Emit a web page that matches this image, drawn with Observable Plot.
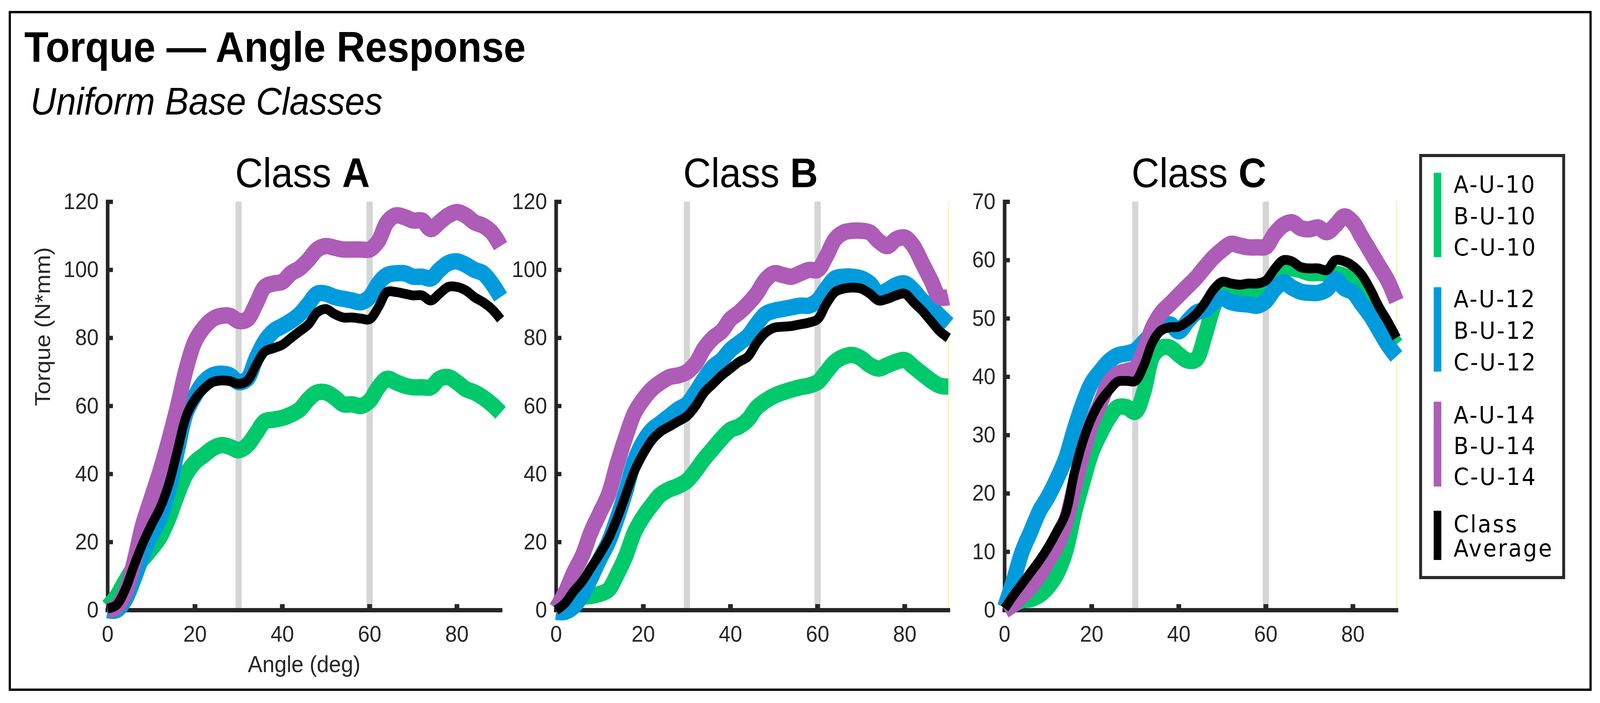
<!DOCTYPE html>
<html>
<head>
<meta charset="utf-8">
<script src="https://cdn.jsdelivr.net/npm/d3@7"></script>
<script src="https://cdn.jsdelivr.net/npm/@observablehq/plot@0.6"></script>
<style>
  html, body { margin: 0; padding: 0; background: #fff; overflow: hidden; }
  #page { position: absolute; left: 0; top: 0; width: 4406px; height: 1799px; transform-origin: 0 0; font-family: "Liberation Sans", Arial, sans-serif; background: #fff; overflow: hidden; }
  .abs { position: absolute; white-space: nowrap; line-height: 1; }
  #frame { position: absolute; left: 24px; top: 28px; width: 4359px; height: 1740px; border: 6px solid #000; box-sizing: border-box; }
  #title { left: 67px; top: 66px; font-size: 109px; font-weight: bold; color: #000; }
  #subtitle { left: 84px; top: 210px; font-size: 98px; font-style: italic; color: #000; }
  .classTitle { top: 389px; width: 800px; text-align: center; font-size: 106px; color: #000; }
  .panel { position: absolute; top: 440px; }
  .panel svg { max-width: none !important; overflow: visible; }
  #legendBox { position: absolute; left: 3908px; top: 394px; width: 402px; height: 1088px; border: 8px solid #2a2a2a; box-sizing: border-box; background: #fff; }
  .legBar { position: absolute; left: 3948px; width: 21px; }
  .legText { font-family: "DejaVu Sans", Verdana, sans-serif; font-size: 60px; letter-spacing: 4px; color: #000; left: 4003px; }
</style>
</head>
<body>
<div id="page">
<div id="frame"></div>
<div class="abs" id="title">Torque — Angle Response</div>
<div class="abs" id="subtitle">Uniform Base Classes</div>
<div id="legendBox"></div>
</div>
<script>
// ---------------- data ----------------
const angleDeg = [0,2,4,6,8,10,12,14,16,18,20,22,24,26,28,30,32,34,36,38,40,42,44,46,48,50,52,54,56,58,60,62,64,66,68,70,72,74,76,78,80,82,84,86,88,90];

const classA_U10 = [1,4,8.5,12.5,15,18,21.5,27,34,40,43.5,45.5,47.5,48.5,48,47,48.5,52,55.5,56,56.5,57.5,59,62,64,64,62.5,60.5,60.5,60,61.5,65.5,68,67,66,65.5,65.5,65.5,68,68.5,67,65,64,62.5,60.5,58];
const classA_U12 = [0,0,3,9,16,22,27,35,47,58,63,67,69,69.5,69,67,68,74,79,82,83.5,85,87,90,93,93,92,91.5,91,90.5,92,96,98.5,99,99,98,98,97.5,100,102,102.5,101.5,100,99,96,92];
const classA_U14 = [0,1,5,14,25,33,41,50,60,71,79,83,85.5,86.5,86.5,85,85.5,90,95,96,96.5,99,100.5,103,106,107,106.5,106,106,106,106,108.5,114,116,115.5,114.5,114.5,112,114,116,117,116,114,113,111,107];
const classA_avg = [0.5,1.5,6,13,19.5,25,30,37,47,57,62,65,67,67.5,67.3,66.5,67.5,72,76,77,78,80,82,84,87.5,88.5,87,86,86,85.7,85.5,89,93.5,93.5,93,92.5,92.5,91,93,95,95,94,92,90.5,88.5,85.5];

const classB_U10 = [2,3,4,4,4.2,4.8,6,10.5,16,23,27.5,31,34,35.5,36.5,38,41,44.5,47.5,50.5,53,54,56,59.5,61.5,63,64,64.8,65.5,66,67,70,73,74.5,75,74,72,71,72,73,73.5,71.5,69.5,67.5,66,65.7];
const classB_U12 = [-0.5,-0.5,1,4.5,9.5,15,20,27,35,44,49.5,53,55,57,59,60.5,64,68,71.5,73.5,76.5,78.5,80.5,84,87,88,88.5,89,89.5,89.5,91,94.5,97.5,98,98,97.5,96,93,94,95.5,96,94,91,89,86.5,84];
const classB_U14 = [0.5,5,11,16,23,28.5,34,43,51,58,62,65,67,68.5,69,70,72.5,77,80,82,85.5,87.5,90,93,97,99,98.5,98,99,100,100,104,109,111,111.5,111.5,111,108.5,107,109,109.5,107,102,97,92,92];
const classB_avg = [0,2,5.5,8.5,12.5,16.5,21,27,34,41,46,50,52.5,54,55.5,57,60,64,66.5,69,71,73,74.5,78.5,81.5,83,83.3,83.5,84,84.5,85.5,90,93.5,94.5,94.8,94.5,93,91,91.5,92.5,93,90.5,88,85,82,80];

const classC_U10 = [0,1,1.7,1.9,2.6,4,6.2,10,16.5,22,27,30.3,33,34.8,34.8,34,37.5,43.5,45,45,43.8,42.8,43,47,52,55,55.3,55,54.8,54.8,55.5,57.5,58.5,58.6,58.3,57.8,57.8,57.8,57.7,57.3,56.5,55,52.5,50,47.5,45.5];
const classC_U12 = [0.5,5,10,13.5,17,19.5,22.5,26,31,35.5,39,41,42.7,43.7,44,44.5,46,47.5,48.6,49,47.8,49.5,51,51.5,52.8,53.5,52.8,52.5,52.4,52.2,53,55,56.2,55.3,54.6,54.4,54.4,55,56.7,55.2,54.5,52.5,50.5,48,45.5,43.5];
const classC_U14 = [0,1,2.5,4,6,8.5,11,15,21,27,32,35.5,39,40.5,41,41.5,44.5,48.5,51,52.5,54,55.5,57,58.8,60.5,61.8,62.8,62.5,62.2,62.2,62.3,64.5,66,66.5,65.5,65.3,65.6,64.8,66,67.5,66.5,64,61.5,59,56.5,53];
const classC_avg = [0.3,2.5,4.5,6.5,8.5,10.8,13.5,16.5,23.5,29,33,35.8,37.7,39.2,39.3,39.3,42,46,48,48.5,48.6,49.5,50.8,52.7,55,56.3,56,55.8,56,56,56.5,58.5,60,59.8,58.8,58.6,58.6,58.3,60,59.8,59,57.5,55,52,49.5,46.7];

const classNames = ["A", "B", "C"];
const seriesNames = ["U-10", "U-12", "U-14", "Class Average"];
const seriesColors = ["#00c96b", "#009bdd", "#ad5cb7", "#000000"];
const xTicks = [0, 20, 40, 60, 80];
const yTicksAB = [0, 20, 40, 60, 80, 100, 120];
const yTicksC = [0, 10, 20, 30, 40, 50, 60, 70];
const bandAngles = [30, 60];
const xLabel = "Angle (deg)";
const yLabel = "Torque (N*mm)";

const legendGroups = [
  {color: seriesColors[0], labels: ["A-U-10", "B-U-10", "C-U-10"]},
  {color: seriesColors[1], labels: ["A-U-12", "B-U-12", "C-U-12"]},
  {color: seriesColors[2], labels: ["A-U-14", "B-U-14", "C-U-14"]},
  {color: seriesColors[3], labels: ["Class", "Average"]}
];

const classData = {
  A: {series: [classA_U10, classA_U12, classA_U14, classA_avg], yMax: 120, yTicks: yTicksAB},
  B: {series: [classB_U10, classB_U12, classB_U14, classB_avg], yMax: 120, yTicks: yTicksAB},
  C: {series: [classC_U10, classC_U12, classC_U14, classC_avg], yMax: 70, yTicks: yTicksC}
};

// ---------------- layout (page pixels) ----------------
const PAGE_W = 4406, PAGE_H = 1799;
const page = document.getElementById("page");
const svgTop = 440, svgHeight = 1340, frameTop = 516, frameBottom = 1561;
const panelLayout = [
  {left: 0,    width: 1400, x0: 296,  x90: 1378},
  {left: 1400, width: 1240, x0: 1531, x90: 2611},
  {left: 2640, width: 1240, x0: 2766, x90: 3845}
];
const axisColor = "#262626";
const fontFamily = '"Liberation Sans", Arial, Helvetica, sans-serif';

classNames.forEach((cls, i) => {
  const L = panelLayout[i];
  const cfg = classData[cls];
  const pxPerDeg = (L.x90 - L.x0) / 90;
  const pxPerUnit = (frameBottom - frameTop) / cfg.yMax;
  const yTickLen = 15 / pxPerDeg;
  const xTickLen = 15 / pxPerUnit;

  const marks = [];
  marks.push(Plot.ruleX(bandAngles, {y1: 0, y2: cfg.yMax, stroke: "#d5d5d5", strokeWidth: 17}));
  if (i > 0) marks.push(Plot.ruleX([90], {y1: 0, y2: cfg.yMax, stroke: "#f4f47a", strokeWidth: 2}));
  marks.push(Plot.axisX({ticks: xTicks, tickSize: 0, tickPadding: 39, color: axisColor, label: null, tickFormat: d => String(d)}));
  marks.push(Plot.axisY({ticks: cfg.yTicks, tickSize: 0, tickPadding: 25, color: axisColor, label: null, tickFormat: d => String(d)}));
  marks.push(Plot.ruleX([0], {y1: 0, y2: cfg.yMax, stroke: axisColor, strokeWidth: 10, strokeLinecap: "square"}));
  marks.push(Plot.ruleY([0], {x1: 0, x2: 90, stroke: axisColor, strokeWidth: 11, strokeLinecap: "square"}));
  marks.push(Plot.ruleY(cfg.yTicks, {x1: 0, x2: yTickLen, stroke: axisColor, strokeWidth: 11}));
  marks.push(Plot.ruleX(xTicks.filter(t => t > 0), {y1: 0, y2: xTickLen, stroke: axisColor, strokeWidth: 13}));

  cfg.series.forEach((vals, k) => {
    const rows = angleDeg.map((a, j) => ({angle: a, torque: vals[j], series: seriesNames[k]}));
    marks.push(Plot.line(rows, {
      x: "angle", y: "torque",
      stroke: seriesColors[k],
      strokeWidth: k === 3 ? 25 : 42,
      curve: "catmull-rom",
      strokeLinecap: "butt",
      strokeLinejoin: "round"
    }));
  });

  if (i === 0) {
    marks.push(Plot.text([xLabel], {frameAnchor: "bottom", lineAnchor: "bottom", dy: 158, fontSize: 60, fill: axisColor}));
    marks.push(Plot.text([yLabel], {frameAnchor: "left", rotate: -90, dx: -178, fontSize: 60, fill: axisColor}));
  }

  const chart = Plot.plot({
    width: L.width,
    height: svgHeight,
    marginLeft: L.x0 - L.left,
    marginRight: L.left + L.width - L.x90,
    marginTop: frameTop - svgTop,
    marginBottom: svgTop + svgHeight - frameBottom,
    x: {domain: [0, 90]},
    y: {domain: [0, cfg.yMax]},
    style: {fontFamily: fontFamily, fontSize: "58px", background: "transparent", overflow: "visible", maxWidth: "none"},
    marks
  });
  const wrap = document.createElement("div");
  wrap.className = "panel";
  wrap.style.left = L.left + "px";
  wrap.style.width = L.width + "px";
  wrap.appendChild(chart);
  page.appendChild(wrap);

  const t = document.createElement("div");
  t.className = "abs classTitle";
  t.style.left = ((L.x0 + L.x90) / 2 - 400 - 4) + "px";
  t.innerHTML = "Class <b>" + cls + "</b>";
  page.appendChild(t);
});

// ---------------- legend ----------------
const groupFirstBaseline = [493, 786, 1083, 1362];
const lineSteps = [80.5, 81, 79, 62];
const barSpans = [[442, 658], [735, 951], [1028, 1245], [1307, 1433]];
legendGroups.forEach((g, gi) => {
  const bar = document.createElement("div");
  bar.className = "legBar";
  bar.style.top = barSpans[gi][0] + "px";
  bar.style.height = (barSpans[gi][1] - barSpans[gi][0]) + "px";
  bar.style.background = g.color;
  page.appendChild(bar);
  g.labels.forEach((lab, li) => {
    const el = document.createElement("div");
    el.className = "abs legText";
    const baseline = groupFirstBaseline[gi] + li * lineSteps[gi];
    el.style.top = (baseline - 0.846 * 60) + "px";
    el.textContent = lab;
    page.appendChild(el);
  });
});

// map the 4406x1799 layout onto the actual viewport so proportions match the reference
function fit() {
  const vw = window.innerWidth || document.documentElement.clientWidth;
  const vh = window.innerHeight || document.documentElement.clientHeight;
  const sx = vw / PAGE_W, sy = vh / PAGE_H;
  page.style.transform = (Math.abs(sx - 1) < 0.001 && Math.abs(sy - 1) < 0.001) ? "none" : `scale(${sx}, ${sy})`;
}
fit();
window.addEventListener("resize", fit);
</script>
</body>
</html>
